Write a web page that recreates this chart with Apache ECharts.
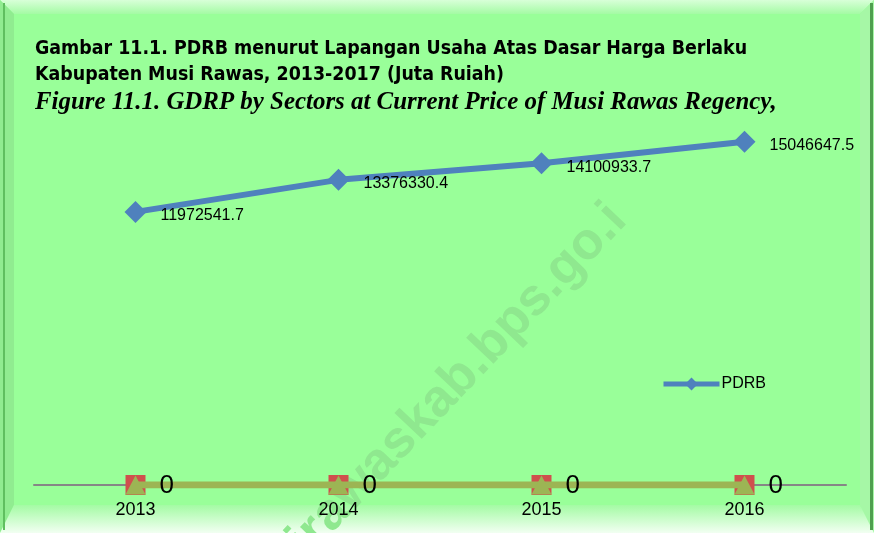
<!DOCTYPE html>
<html>
<head>
<meta charset="utf-8">
<script src="https://cdn.jsdelivr.net/npm/echarts@6/dist/echarts.min.js"></script>
<style>
  html, body { margin: 0; padding: 0; background: #99ff99; }
  #main { width: 874px; height: 533px; }
</style>
</head>
<body>
<div id="main"></div>
<script>
// tahun (kategori)
var years = ['2013', '2014', '2015', '2016'];
// PDRB, juta rupiah
var pdrb = [11972541.7, 13376330.4, 14100933.7, 15046647.5];
// dua seri lain di grafik asli, semuanya nol
var series2 = [0, 0, 0, 0];
var series3 = [0, 0, 0, 0];

var chart = echarts.init(document.getElementById('main'));

var sans = '"Liberation Sans", Arial, sans-serif';
var cond = '"DejaVu Sans Condensed", "DejaVu Sans", sans-serif';

chart.setOption({
  backgroundColor: '#99ff99',
  animation: false,
  title: [
    {
      text: 'Gambar 11.1. PDRB menurut Lapangan Usaha Atas Dasar Harga Berlaku',
      left: 30, top: 34,
      textStyle: { fontFamily: cond, fontWeight: 'bold', fontSize: 19.4, color: '#000' }
    },
    {
      text: 'Kabupaten Musi Rawas, 2013-2017 (Juta Ruiah)',
      left: 30, top: 60,
      textStyle: { fontFamily: cond, fontWeight: 'bold', fontSize: 19.4, color: '#000' }
    },
    {
      text: 'Figure 11.1. GDRP by Sectors at Current Price of Musi Rawas Regency,',
      left: 30, top: 85,
      textStyle: { fontFamily: '"Liberation Serif", serif', fontWeight: 'bold', fontStyle: 'italic', fontSize: 24.9, color: '#000' }
    }
  ],
  graphic: [
    // bingkai timbul
    { type: 'polygon', z: -10, silent: true, shape: { points: [[0, 0], [874, 0], [860, 14], [14, 14]] },
      style: { fill: new echarts.graphic.LinearGradient(0, 0, 0, 1, [{ offset: 0, color: '#d8ffd8' }, { offset: 1, color: '#a4fba4' }]) } },
    { type: 'polygon', z: -10, silent: true, shape: { points: [[0, 0], [14, 14], [14, 505], [0, 533]] },
      style: { fill: '#90ec90' } },
    { type: 'polygon', z: -10, silent: true, shape: { points: [[874, 0], [874, 533], [860, 505], [860, 14]] },
      style: { fill: '#a6f7a6' } },
    { type: 'polygon', z: -10, silent: true, shape: { points: [[0, 533], [14, 505], [860, 505], [874, 533]] },
      style: { fill: new echarts.graphic.LinearGradient(0, 0, 0, 1, [{ offset: 0, color: '#a4fba4' }, { offset: 1, color: '#f2fff2' }]) } },
    { type: 'rect', z: -9, silent: true, shape: { x: 3, y: 3, width: 2, height: 527 }, style: { fill: '#5fbf5f' } },
    { type: 'rect', z: -9, silent: true, shape: { x: 870, y: 3, width: 3, height: 527 }, style: { fill: '#4f9f4f' } },
    // watermark
    { type: 'text', z: -5, silent: true, x: 618, y: 212, rotation: 0.81,
      style: { text: 'musirawaskab.bps.go.i', fill: '#8fe88f', font: 'bold 52px ' + sans, align: 'right', verticalAlign: 'middle' } }
  ],
  legend: {
    data: ['PDRB'],
    left: 656, top: 371,
    itemWidth: 56, itemHeight: 16, itemGap: 5,
    lineStyle: { width: 5 },
    textStyle: { fontFamily: sans, fontSize: 16, color: '#000', padding: [0, 0, 0, -3] }
  },
  grid: { left: 34, right: 28, top: 120, bottom: 48, containLabel: false },
  xAxis: {
    type: 'category',
    data: years,
    axisLine: { lineStyle: { color: '#868686', width: 2 } },
    axisTick: { show: false },
    axisLabel: { fontFamily: sans, fontSize: 18, color: '#000', margin: 16 }
  },
  yAxis: {
    type: 'value',
    min: 0, max: 16000000,
    show: false,
    splitLine: { show: false }
  },
  series: [
    {
      name: 'PDRB',
      type: 'line',
      data: pdrb,
      symbol: 'diamond',
      symbolSize: 22,
      itemStyle: { color: '#4f81bd' },
      lineStyle: { color: '#4f81bd', width: 6 },
      label: { show: true, position: 'right', distance: 14, offset: [0, 4], fontFamily: sans, fontSize: 16, color: '#000' },
      z: 5
    },
    {
      name: 'Seri 2',
      type: 'line',
      data: series2,
      symbol: 'rect',
      symbolSize: 20,
      itemStyle: { color: '#cf504d' },
      lineStyle: { color: '#c0504d', width: 6 },
      z: 3
    },
    {
      name: 'Seri 3',
      type: 'line',
      data: series3,
      symbol: 'triangle',
      symbolSize: [20, 19],
      itemStyle: { color: '#9cb554' },
      lineStyle: { color: '#9cb554', width: 7 },
      label: { show: true, position: 'right', distance: 14, offset: [0, 1], fontFamily: sans, fontSize: 26, color: '#000' },
      z: 4
    }
  ]
});
</script>
</body>
</html>
